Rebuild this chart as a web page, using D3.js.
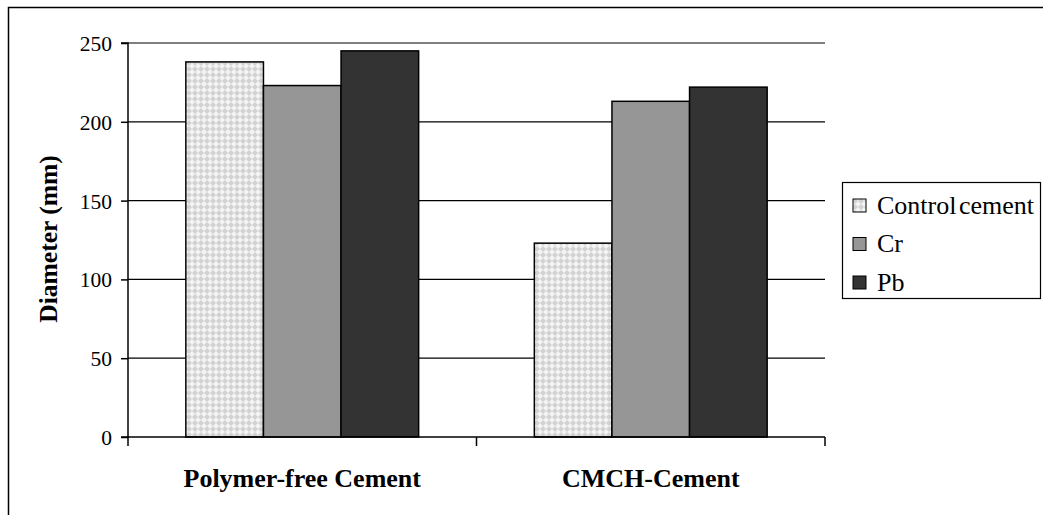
<!DOCTYPE html>
<html><head><meta charset="utf-8">
<script src="https://cdn.jsdelivr.net/npm/d3@7"></script>
<style>body{margin:0;background:#fff;} svg text{font-family:"Liberation Serif","Times New Roman",serif !important;}</style>
</head><body>
<svg id="chart" width="1043" height="515"></svg>
<script>
const categories = ["Polymer-free Cement", "CMCH-Cement"];
const seriesNames = ["Control cement", "Cr", "Pb"];
const controlValues = [238, 123];
const crValues = [223, 213];
const pbValues = [245, 222];
const yTicks = [0, 50, 100, 150, 200, 250];

const seriesValues = [controlValues, crValues, pbValues];
const colors = ["url(#chk)", "#969696", "#333333"];

const svg = d3.select("#chart");
const defs = svg.append("defs");
const pat = defs.append("pattern").attr("id","chk").attr("patternUnits","userSpaceOnUse").attr("width",6).attr("height",6);
pat.append("rect").attr("width",6).attr("height",6).attr("fill","#f4f4f4");
pat.append("path").attr("d","M3,0 L6,3 L3,6 L0,3 Z").attr("fill","#d2d2d2");

// outer border
svg.append("rect").attr("x",8.5).attr("y",7.5).attr("width",1100).attr("height",600)
  .attr("fill","none").attr("stroke","#000").attr("stroke-width",1.5);

const m = {left:128, right:825, top:43, bottom:437};
const x0 = d3.scaleBand().domain(categories).range([m.left, m.right]).paddingInner(0).paddingOuter(0);
const gpad = x0.bandwidth()*0.166;
const x1 = d3.scaleBand().domain(seriesNames).range([gpad, x0.bandwidth()-gpad]).padding(0);
const y = d3.scaleLinear().domain([0,250]).range([m.bottom, m.top]);

// gridlines
svg.append("g").selectAll("line").data(yTicks.filter(d=>d>0)).join("line")
  .attr("x1",m.left).attr("x2",m.right).attr("y1",d=>y(d)).attr("y2",d=>y(d))
  .attr("stroke","#000").attr("stroke-width",1.2);

// bars
const g = svg.append("g");
categories.forEach((c,ci)=>{
  seriesNames.forEach((s,si)=>{
    const v = seriesValues[si][ci];
    g.append("rect").attr("x",x0(c)+x1(s)).attr("y",y(v))
      .attr("width",x1.bandwidth()).attr("height",y(0)-y(v))
      .attr("fill",colors[si]).attr("stroke","#000").attr("stroke-width",1.5);
  });
});

// y axis
const yAxis = d3.axisLeft(y).tickValues(yTicks).tickSize(7).tickPadding(9);
const ya = svg.append("g").attr("transform",`translate(${m.left},0)`).call(yAxis);
ya.select(".domain").attr("stroke","#000").attr("stroke-width",1.5).attr("d",`M-7,${m.top}H0V${m.bottom}H-7`);
ya.selectAll(".tick line").attr("stroke","#000").attr("stroke-width",1.5);
ya.selectAll(".tick text").attr("font-size","21.5px").attr("fill","#000").attr("dy","0.35em");

// x axis
const xa = svg.append("g").attr("transform",`translate(0,${m.bottom})`);
xa.append("line").attr("x1",m.left).attr("x2",m.right).attr("stroke","#000").attr("stroke-width",1.5);
const bounds = [m.left, x0(categories[1]), m.right];
xa.selectAll("line.tk").data(bounds).join("line").attr("class","tk")
  .attr("x1",d=>d).attr("x2",d=>d).attr("y1",0).attr("y2",9).attr("stroke","#000").attr("stroke-width",1.5);
xa.selectAll("text").data(categories).join("text")
  .attr("x",d=>x0(d)+x0.bandwidth()/2).attr("y",50).attr("text-anchor","middle")
  .attr("font-size","26px").attr("font-weight","bold").text(d=>d);

// y label
svg.append("text").attr("transform","translate(51,239) rotate(-90)").attr("text-anchor","middle")
  .attr("dominant-baseline","middle").attr("font-size","25.5px").attr("font-weight","bold").text("Diameter (mm)");

// legend
const lg = svg.append("g");
lg.append("rect").attr("x",842.5).attr("y",182.5).attr("width",198).attr("height",116)
  .attr("fill","#fff").attr("stroke","#000").attr("stroke-width",1.2);
seriesNames.forEach((s,i)=>{
  const cy = 205 + i*38.5;
  lg.append("rect").attr("x",853).attr("y",cy-6).attr("width",13).attr("height",13)
    .attr("fill",colors[i]).attr("stroke","#000").attr("stroke-width",1);
  lg.append("text").attr("x",877).attr("y",cy).attr("dominant-baseline","central")
    .attr("font-size","26px").attr("word-spacing","-4px").text(s);
});
</script>
</body></html>
